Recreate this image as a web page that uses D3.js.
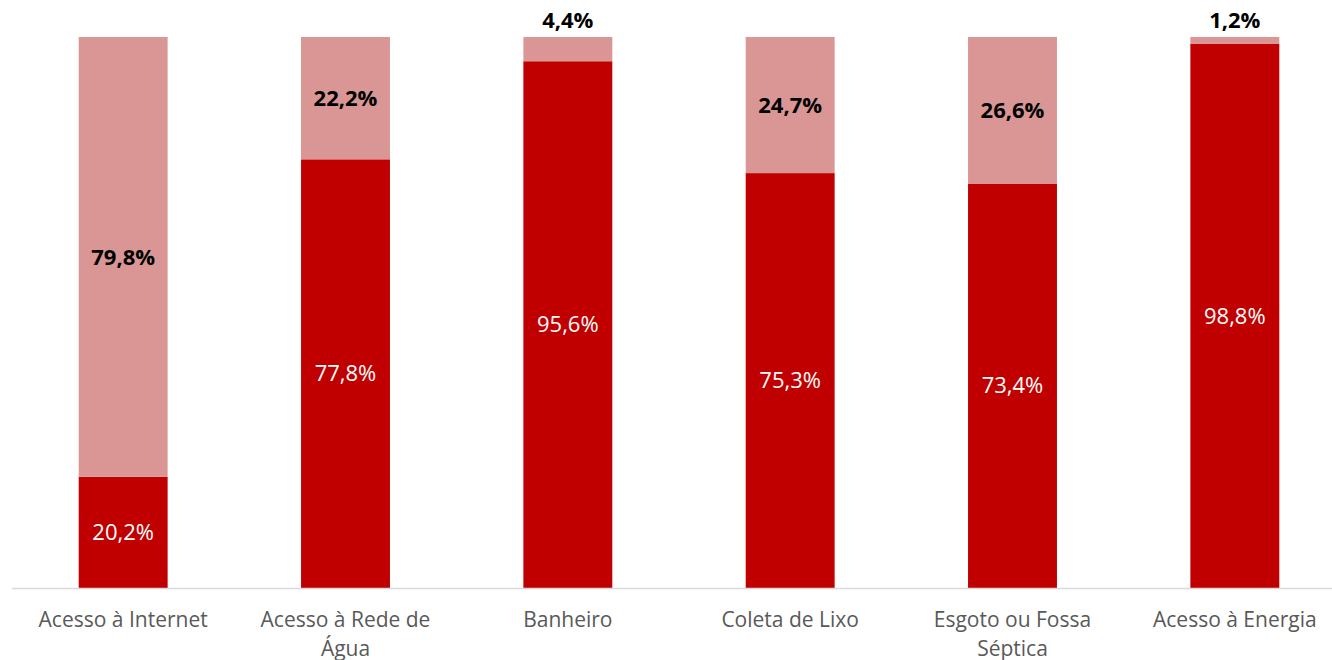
<!DOCTYPE html>
<html>
<head>
<meta charset="utf-8">
<script src="https://cdn.jsdelivr.net/npm/d3@7"></script>
<style>
  html, body { margin: 0; padding: 0; background: #fff; }
  svg { display: block; font-family: "Open Sans", "Noto Sans", sans-serif; }
</style>
</head>
<body>
<div id="chart"></div>
<script>
const categories = ["Acesso à Internet", "Acesso à Rede de Água", "Banheiro", "Coleta de Lixo", "Esgoto ou Fossa Séptica", "Acesso à Energia"];
const categoryLines = [["Acesso à Internet"], ["Acesso à Rede de", "Água"], ["Banheiro"], ["Coleta de Lixo"], ["Esgoto ou Fossa", "Séptica"], ["Acesso à Energia"]];
const simValues = [20.2, 77.8, 95.6, 75.3, 73.4, 98.8];
const naoValues = [79.8, 22.2, 4.4, 24.7, 26.6, 1.2];

const width = 1332, height = 660;
const margin = { top: 37, right: -14, bottom: 72, left: 12 };

const svg = d3.select('#chart').append('svg')
    .attr('width', width)
    .attr('height', height);

const x = d3.scaleBand()
    .domain(categories)
    .range([margin.left, width - margin.right])
    .paddingInner(0.6)
    .paddingOuter(0.3);

const y = d3.scaleLinear()
    .domain([0, 100])
    .range([height - margin.bottom, margin.top]);

const fmt = v => v.toFixed(1).replace('.', ',') + '%';

const rows = categories.map((c, i) => ({ cat: c, sim: simValues[i], nao: naoValues[i] }));

// barras
const g = svg.append('g');
g.selectAll('rect.sim')
    .data(rows)
    .join('rect')
    .attr('class', 'sim')
    .attr('x', d => x(d.cat))
    .attr('width', x.bandwidth())
    .attr('y', d => y(d.sim))
    .attr('height', d => y(0) - y(d.sim))
    .attr('fill', '#C00000');

g.selectAll('rect.nao')
    .data(rows)
    .join('rect')
    .attr('class', 'nao')
    .attr('x', d => x(d.cat))
    .attr('width', x.bandwidth())
    .attr('y', d => y(d.sim + d.nao))
    .attr('height', d => y(d.sim) - y(d.sim + d.nao))
    .attr('fill', '#D99694');

// eixo
svg.append('line')
    .attr('x1', margin.left)
    .attr('x2', width)
    .attr('y1', y(0) + 0.5)
    .attr('y2', y(0) + 0.5)
    .attr('stroke', '#D9D9D9')
    .attr('stroke-width', 1.5);

// rótulos
g.selectAll('text.sim')
    .data(rows)
    .join('text')
    .attr('class', 'sim')
    .attr('x', d => x(d.cat) + x.bandwidth() / 2)
    .attr('y', d => (y(0) + y(d.sim)) / 2)
    .attr('dy', '0.35em')
    .attr('text-anchor', 'middle')
    .attr('fill', '#fff')
    .style('font-size', '22px')
    .text(d => fmt(d.sim));

g.selectAll('text.nao')
    .data(rows)
    .join('text')
    .attr('class', 'nao')
    .attr('x', d => x(d.cat) + x.bandwidth() / 2)
    .attr('y', d => d.nao < 8 ? y(100) - 17 : (y(d.sim) + y(d.sim + d.nao)) / 2)
    .attr('dy', '0.35em')
    .attr('text-anchor', 'middle')
    .attr('fill', '#000')
    .style('font-size', '22px')
    .style('font-weight', 'bold')
    .text(d => fmt(d.nao));

// categorias
const labels = svg.append('g').selectAll('text')
    .data(categories)
    .join('text')
    .attr('x', d => x(d) + x.bandwidth() / 2)
    .attr('y', y(0) + 39)
    .attr('text-anchor', 'middle')
    .attr('fill', '#595959')
    .style('font-size', '21px');

labels.each(function (d, i) {
    const t = d3.select(this);
    categoryLines[i].forEach((ln, j) => {
        t.append('tspan')
            .attr('x', x(d) + x.bandwidth() / 2)
            .attr('dy', j === 0 ? 0 : 29)
            .text(ln);
    });
});
</script>
</body>
</html>
